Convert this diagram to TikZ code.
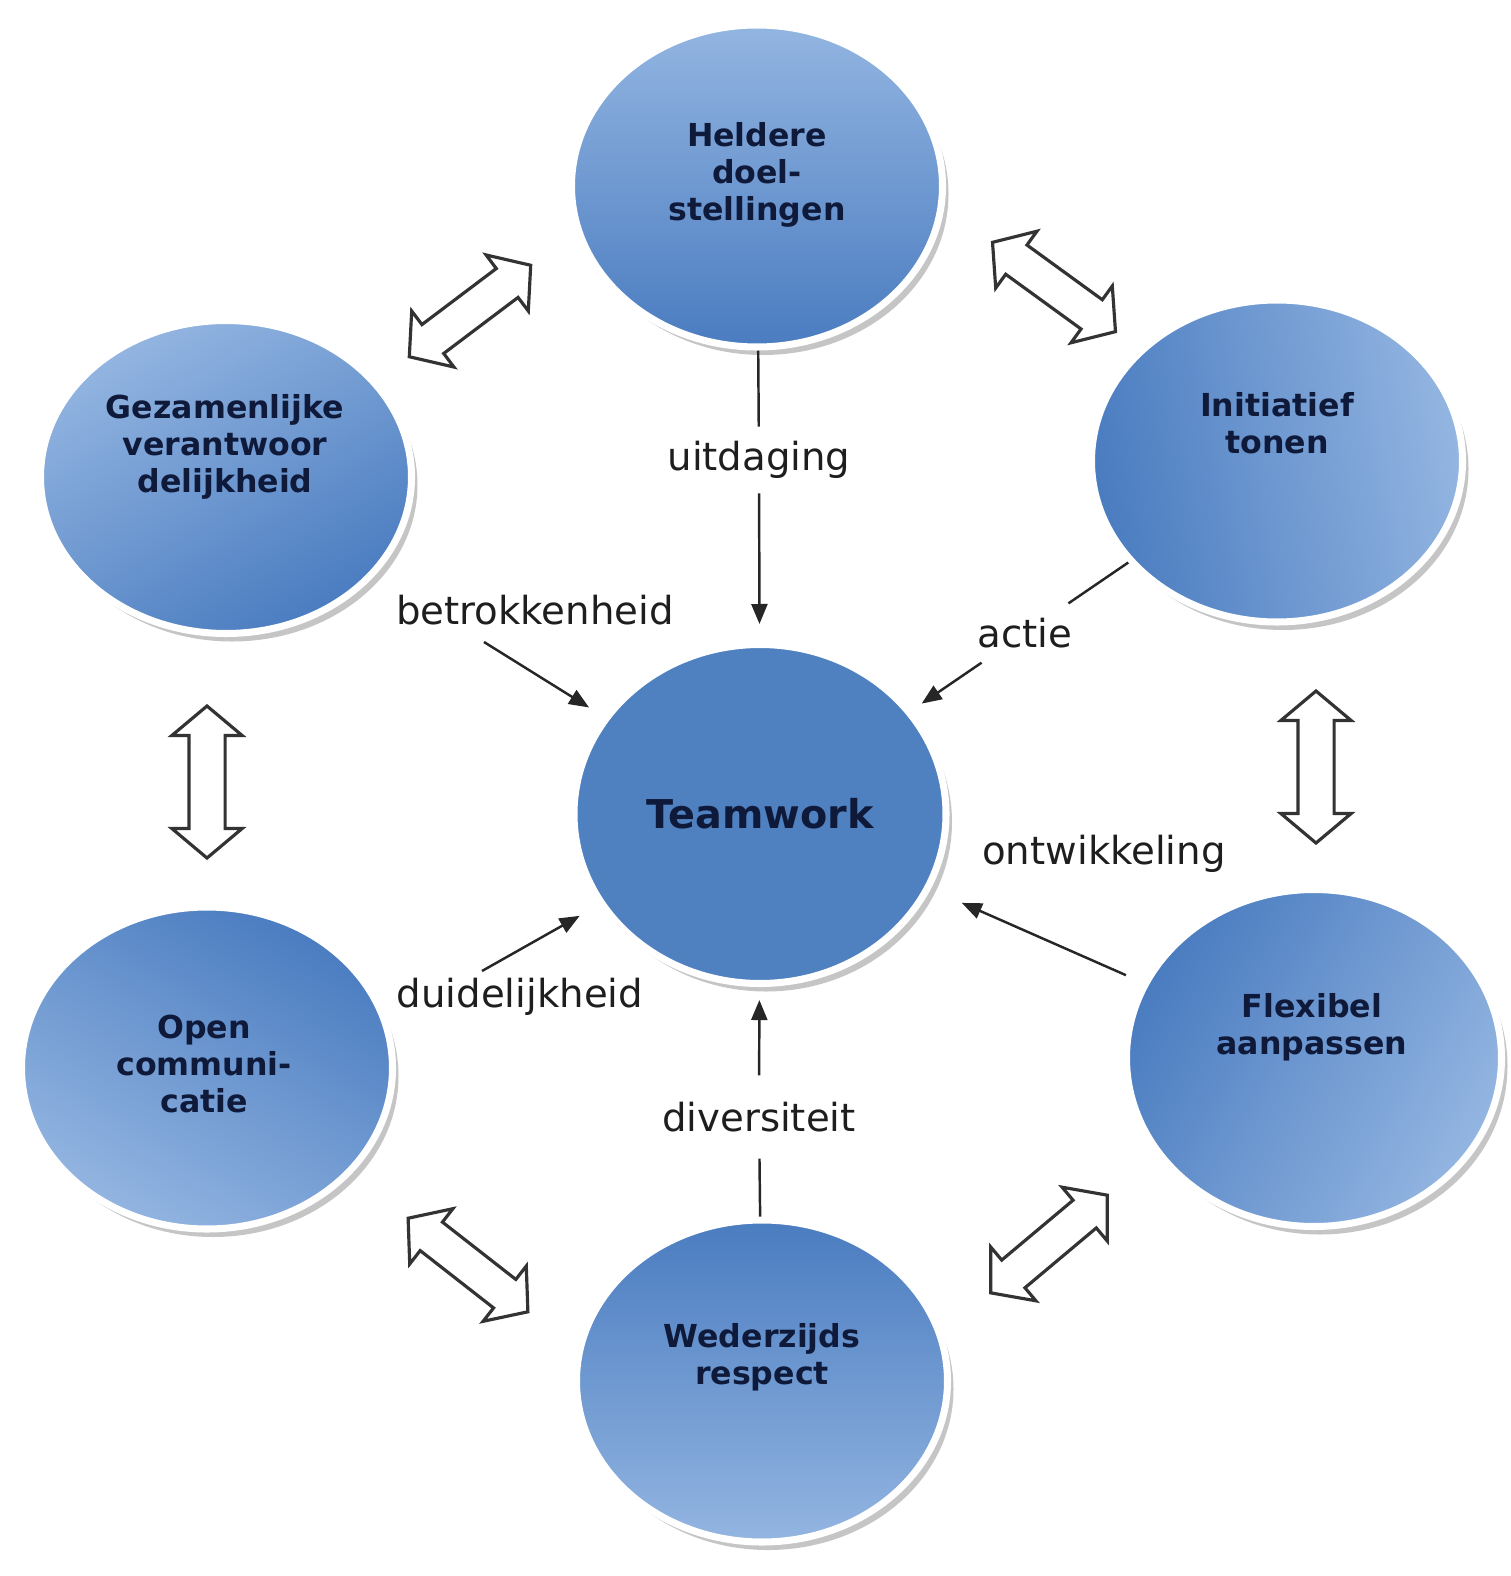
\documentclass[tikz,border=0pt]{standalone}
\usepackage{fontspec}
\setmainfont{DejaVu Sans}
\usepackage{tikz}
\usetikzlibrary{shapes.geometric,shapes.arrows,shadows,arrows.meta}
\definecolor{balllight}{HTML}{93B5E1}
\definecolor{balldark}{HTML}{4A7CC0}
\definecolor{teamblue}{HTML}{4F80C0}
\definecolor{navy}{HTML}{0F1A3A}
\definecolor{labelgray}{HTML}{1E1E1E}

\begin{document}
\begin{tikzpicture}[>={Triangle[length=0.2cm,width=0.16cm]},
  ball/.style={ellipse,draw=white,line width=2pt,minimum width=3.71cm,minimum height=3.22cm,inner sep=0pt,
    top color=balllight,bottom color=balldark,shading angle=#1,
    drop shadow={shadow xshift=0.06cm,shadow yshift=-0.08cm,fill=black!45,opacity=0.5}},
  ball/.default=0,
  teamball/.style={ellipse,draw=white,line width=2pt,minimum width=3.72cm,minimum height=3.39cm,inner sep=0pt,
    fill=teamblue,text=navy,font=\bfseries\fontsize{11.3}{13}\selectfont,
    drop shadow={shadow xshift=0.06cm,shadow yshift=-0.08cm,fill=black!45,opacity=0.5}},
  balltext/.style={align=center,text=navy,font=\bfseries\fontsize{9}{10.6}\selectfont},
  lbl/.style={text=labelgray,inner sep=0.14cm,font=\fontsize{11}{13}\selectfont},
  link/.style={line width=0.7pt,black!85},
  dbl/.style={double arrow,draw=black!80,line width=0.9pt,fill=white,inner xsep=0pt,inner ysep=0.165cm,
    minimum height=1.52cm,minimum width=0.67cm,double arrow head extend=0.17cm,double arrow tip angle=100}]
\useasboundingbox (0,0) rectangle (15.11,-15.76);
% circles
\node[ball=0] (helder) at (7.57,-1.86) {};
\node[balltext] (helder-t) at (7.57,-1.75) {Heldere\\doel-\\stellingen};
\node[ball=-80] (init) at (12.77,-4.61) {};
\node[balltext] (init-t) at (12.77,-4.23) {Initiatief\\tonen};
\node[ball=-120,minimum width=3.75cm,minimum height=3.37cm] (flex) at (13.14,-10.58) {};
\node[balltext] (flex-t) at (13.12,-10.27) {Flexibel\\aanpassen};
\node[ball=180] (wederz) at (7.62,-13.81) {};
\node[balltext] (wederz-t) at (7.62,-13.57) {Wederzijds\\respect};
\node[ball=150] (open) at (2.07,-10.68) {};
\node[balltext] (open-t) at (2.04,-10.64) {Open\\communi-\\catie};
\node[ball=30,minimum height=3.13cm] (gezam) at (2.26,-4.77) {};
\node[balltext] (gezam-t) at (2.25,-4.47) {Gezamenlijke\\verantwoor\\delijkheid};
\node[teamball] (team) at (7.60,-8.14) {Teamwork};
% labels
\node[lbl] (uitdaging) at (7.59,-4.60) {uitdaging};
\node[lbl] (betrok) at (5.35,-6.10) {betrokkenheid};
\node[lbl] (actie) at (10.25,-6.33) {actie};
\node[lbl] (ontwik) at (11.04,-8.54) {ontwikkeling};
\node[lbl] (duidelijk) at (5.20,-9.97) {duidelijkheid};
\node[lbl] (divers) at (7.59,-11.17) {diversiteit};
\coordinate (b-start) at (4.84,-6.42);
\coordinate (d-start) at (4.82,-9.71);
% arrows into teamwork
\draw[link] (helder) -- (uitdaging);
\draw[link,->,shorten >=0.17cm] (uitdaging) -- (team);
\draw[link,->,shorten >=0.17cm] (b-start) -- (team);
\draw[link] (init) -- (actie);
\draw[link,->,shorten >=0.12cm] (actie) -- (team);
\draw[link,->,shorten <=0.18cm,shorten >=0.34cm] (flex) -- (team);
\draw[link,->,shorten >=0.22cm] (d-start) -- (team);
\draw[link,shorten >=0.12cm] (wederz) -- (divers);
\draw[link,->,shorten <=0.12cm,shorten >=0.13cm] (divers) -- (team);
% double arrows
\node[dbl,rotate=37] (a1) at (4.70,-3.11) {};
\node[dbl,rotate=-36] (a2) at (10.54,-2.87) {};
\node[dbl,rotate=90] (a3) at (2.07,-7.82) {};
\node[dbl,rotate=90] (a4) at (13.16,-7.67) {};
\node[dbl,rotate=-38] (a5) at (4.68,-12.65) {};
\node[dbl,rotate=40] (a6) at (10.49,-12.44) {};
\end{tikzpicture}
\end{document}
